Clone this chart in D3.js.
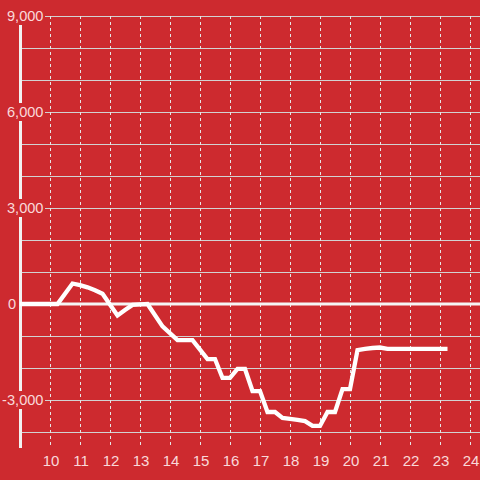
<!DOCTYPE html>
<html><head><meta charset="utf-8">
<script src="https://cdn.jsdelivr.net/npm/d3@7"></script>
<style>html,body{margin:0;padding:0;background:#cd2a2f;}svg{display:block;}</style>
</head><body>
<svg id="c" width="480" height="480"></svg>
<script>
const hours = [9, 10.25, 10.75, 11, 11.25, 11.5, 11.75, 12.25, 12.5, 12.75, 13.25, 13.75, 14.25, 14.75, 15.25, 15.5, 15.75, 16, 16.25, 16.5, 16.75, 17, 17.25, 17.5, 17.75, 18, 18.25, 18.5, 18.75, 19, 19.25, 19.5, 19.75, 20, 20.25, 20.5, 20.75, 21, 21.25, 23.25];
const values = [0, 0, 640, 590, 520, 430, 320, -360, -190, -30, 0, -700, -1130, -1130, -1720, -1720, -2310, -2310, -2030, -2030, -2720, -2720, -3375, -3375, -3560, -3590, -3620, -3660, -3810, -3810, -3375, -3375, -2660, -2660, -1440, -1400, -1375, -1360, -1400, -1400];
const xTicks = [10, 11, 12, 13, 14, 15, 16, 17, 18, 19, 20, 21, 22, 23, 24];
const yGrid = [-4000, -3000, -2000, -1000, 1000, 2000, 3000, 4000, 5000, 6000, 7000, 8000, 9000];
const yLabels = [9000, 6000, 3000, -3000];

const svg = d3.select("#c");
const x = d3.scaleLinear().domain([9, 24 + 1/3]).range([20, 480]);
const y = d3.scaleLinear().domain([-4500, 9000]).range([448, 16]);
const fmt = v => d3.format(",")(v).replace("\u2212", "-");
const font = "Liberation Sans, Arial, sans-serif";
const txtCol = "rgba(255,235,235,0.92)";

svg.append("rect").attr("width", 480).attr("height", 480).attr("fill", "#cd2a2f");

// horizontal grid
svg.append("g").selectAll("line").data(yGrid).join("line")
  .attr("x1", 20).attr("x2", 480)
  .attr("y1", d => y(d) + 0.5).attr("y2", d => y(d) + 0.5)
  .attr("stroke", "#d2d2d2").attr("stroke-width", 1);

// vertical dotted grid
svg.append("g").selectAll("line").data(xTicks).join("line")
  .attr("x1", d => x(d) + 0.5).attr("x2", d => x(d) + 0.5)
  .attr("y1", 16).attr("y2", 448)
  .attr("stroke", "#e6e6e6").attr("stroke-width", 1)
  .attr("stroke-dasharray", "3,3");

// y axis line
svg.append("line").attr("x1", 20.5).attr("x2", 20.5).attr("y1", 16).attr("y2", 448)
  .attr("stroke", "#f2f2f2").attr("stroke-width", 3);

// zero line
svg.append("line").attr("x1", 19).attr("x2", 480).attr("y1", y(0)).attr("y2", y(0))
  .attr("stroke", "#f5f5f5").attr("stroke-width", 3);

// y labels with background boxes
const yl = svg.append("g").selectAll("g").data(yLabels).join("g");
yl.append("rect").attr("x", 0).attr("width", 45)
  .attr("y", d => y(d) - 9).attr("height", 18).attr("fill", "#cd2a2f");
yl.append("text").attr("x", 43.5).attr("y", d => y(d)).attr("dy", "0.36em")
  .attr("text-anchor", "end").attr("font-family", font)
  .attr("font-size", 14.6).attr("fill", txtCol)
  .text(d => fmt(d));

svg.append("text").attr("x", 16).attr("y", y(0)).attr("dy", "0.36em")
  .attr("text-anchor", "end").attr("font-family", font)
  .attr("font-size", 14.6).attr("fill", txtCol).text("0");

// x labels
svg.append("g").selectAll("text").data(xTicks).join("text")
  .attr("x", d => x(d) + 1).attr("y", 466)
  .attr("text-anchor", "middle").attr("font-family", font)
  .attr("font-size", 15).attr("fill", txtCol)
  .text(d => d);

// data line
const pts = hours.map((h, i) => [h, values[i]]);
svg.append("path").datum(pts)
  .attr("d", d3.line().x(d => x(d[0])).y(d => y(d[1])))
  .attr("fill", "none").attr("stroke", "#ffffff").attr("stroke-width", 4.3)
  .attr("stroke-linejoin", "miter");
</script>
</body></html>
